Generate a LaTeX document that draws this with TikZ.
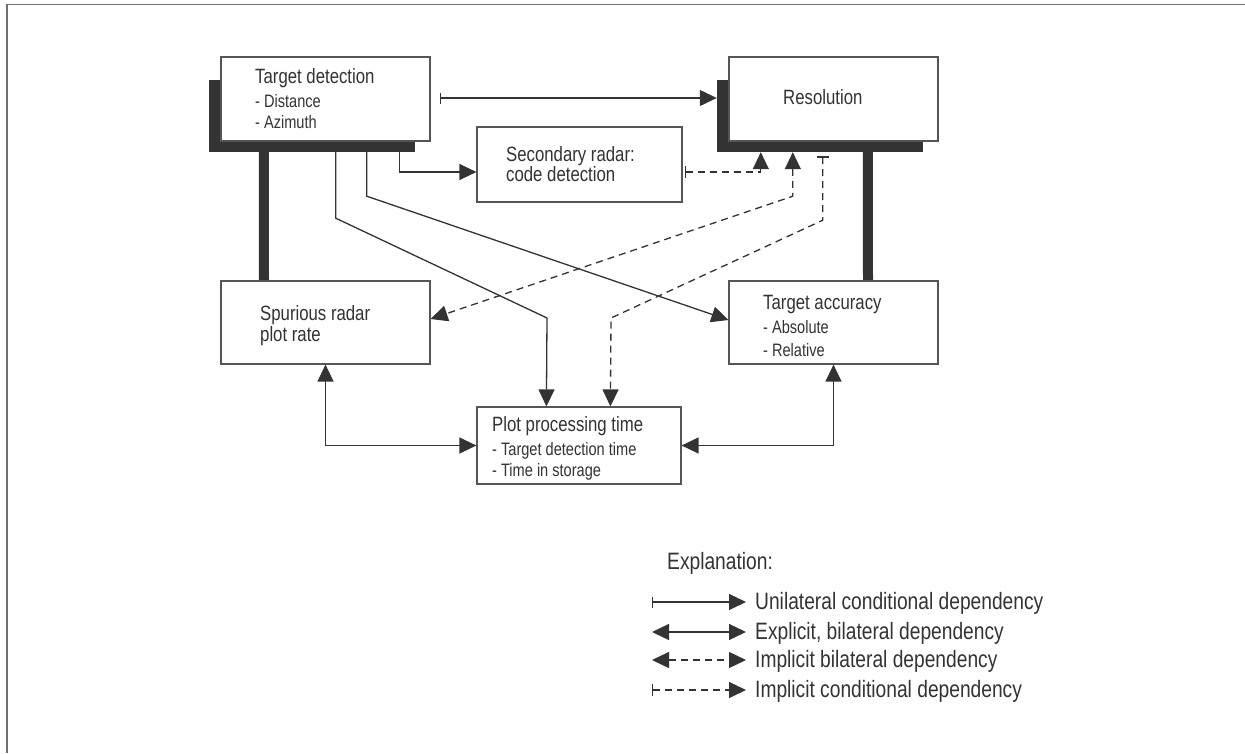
\documentclass[tikz,border=0pt]{standalone}
\usepackage{fontspec}
\setmainfont{Liberation Sans}[FakeStretch=0.81]
\usetikzlibrary{arrows.meta,calc}
\definecolor{ink}{HTML}{333333}
\definecolor{edge}{HTML}{555555}
\definecolor{frame}{HTML}{707070}
\newcommand{\fhead}{\fontsize{20.7}{24}\selectfont}
\newcommand{\fitem}{\fontsize{18}{20}\selectfont}
\newcommand{\fleg}{\fontsize{23.7}{26}\selectfont}

\begin{document}
\begin{tikzpicture}[x=1pt,y=-1pt,
  box/.style={draw=edge, line width=1.2pt, fill=white, inner sep=0pt,
              minimum width=209pt, minimum height=83pt},
  shadowbox/.style={fill=ink, draw=none, inner sep=0pt,
              minimum width=206pt, minimum height=72pt},
  txt/.style={anchor=base west, inner sep=0pt, text=ink},
  link/.style={draw=ink, line width=1.3pt},
  uniarrow/.style={link, {Bar[width=11pt]}-{Triangle[length=17pt,width=16pt]}},
  solidarrow/.style={link, -{Triangle[length=17pt,width=16pt]}},
  biarrow/.style={link, {Triangle[length=17pt,width=16pt]}-{Triangle[length=17pt,width=16pt]}},
  implbi/.style={link, dash pattern=on 7pt off 5pt,
              {Triangle[length=17pt,width=16pt]}-{Triangle[length=17pt,width=16pt]}},
  implcond/.style={link, dash pattern=on 7pt off 5pt,
              {Bar[width=12pt]}-{Triangle[length=17pt,width=16pt]}},
  thickbar/.style={draw=ink, line width=10pt}
]
\useasboundingbox (0,0) rectangle (1245,753);

% open frame: top and left rules only
\draw[frame, line width=1.5pt] (7,753) -- (7,4.5) -- (1245,4.5);

% dark shadows behind the two main boxes
\node[shadowbox] (tdsh) at (312,116) {};
\node[shadowbox] (ressh) at (820,116) {};

% heavy links between the shadowed boxes and the boxes below them
\draw[thickbar] ($(tdsh.south west)+(55,0)$) -- (264,281) coordinate (spurtop);
\draw[thickbar] ($(ressh.south west)+(151,0)$) -- (868,281) coordinate (tatop);

% boxes
\node[box, minimum height=84pt] (td) at (325.5,99) {};
\node[box, minimum height=84pt] (res) at (833.5,99) {};
\node[box, minimum width=205pt, minimum height=75pt] (sec) at (579.5,164.5) {};
\node[box] (spur) at (325.5,322.5) {};
\node[box] (ta) at (833.5,322.5) {};
\node[box, minimum width=204pt, minimum height=77pt] (plot) at (579,445.5) {};

% box texts
\node[txt] (tdt1) at (255,83) {\fhead Target detection};
\node[txt] (tdt2) at (255,107) {\fitem - Distance};
\node[txt] (tdt3) at (255,128) {\fitem - Azimuth};
\node[txt] (rest) at (783,104) {\fhead Resolution};
\node[txt] (sect1) at (506,161) {\fhead Secondary radar:};
\node[txt] (sect2) at (506,181) {\fhead code detection};
\node[txt] (spt1) at (260,320) {\fhead Spurious radar};
\node[txt] (spt2) at (260,341) {\fhead plot rate};
\node[txt] (tat1) at (763,309) {\fhead Target accuracy};
\node[txt] (tat2) at (763,333) {\fitem - Absolute};
\node[txt] (tat3) at (763,356) {\fitem - Relative};
\node[txt] (plt1) at (492,431) {\fhead Plot processing time};
\node[txt] (plt2) at (492,455) {\fitem - Target detection time};
\node[txt] (plt3) at (492,476) {\fitem - Time in storage};

% solid dependencies
\draw[uniarrow] ($(td.east)+(9,-1)$) -- ($(ressh.west)+(0,-18)$);
\draw[solidarrow] ($(tdsh.south east)+(-16,0)$) |- ($(sec.west)+(0,7.5)$);
\draw[solidarrow] ($(tdsh.south west)+(127,0)$) -- ++(0,66) -- (547,318)
      -- ($(plot.north west)+(70,0)$);
\draw[solidarrow] ($(tdsh.south west)+(158,0)$) -- ++(0,44) -- ($(ta.west)+(0,-2.5)$);
\draw[biarrow] (spur.south) |- (plot.west);
\draw[biarrow] (plot.east) -| (ta.south);

% dashed dependencies
\draw[implcond] ($(sec.east)+(2,7.5)$) -| ($(ressh.south west)+(44,0)$);
\draw[implbi] ($(ressh.south west)+(76,0)$) -- ++(0,44) -- ($(spur.east)+(0,-3.5)$);
\draw[implcond] ($(ressh.south west)+(106,4)$) -- ++(0,64) -- (611,318)
      -- ($(plot.north west)+(134,0)$);

% explanation
\node[txt] (legt) at (667,569) {\fleg Explanation:};
\coordinate (la1) at (652,602);  \coordinate (lb1) at (746,602);
\coordinate (la2) at (652,632);  \coordinate (lb2) at (746,632);
\coordinate (la3) at (652,660);  \coordinate (lb3) at (746,660);
\coordinate (la4) at (652,690);  \coordinate (lb4) at (746,690);
\draw[uniarrow] (la1) -- (lb1);
\draw[biarrow] (la2) -- (lb2);
\draw[implbi] (la3) -- (lb3);
\draw[implcond] (la4) -- (lb4);
\node[txt] (leg1) at (755,609) {\fleg Unilateral conditional dependency};
\node[txt] (leg2) at (755,639) {\fleg Explicit, bilateral dependency};
\node[txt] (leg3) at (755,667) {\fleg Implicit bilateral dependency};
\node[txt] (leg4) at (755,697) {\fleg Implicit conditional dependency};
\end{tikzpicture}
\end{document}
